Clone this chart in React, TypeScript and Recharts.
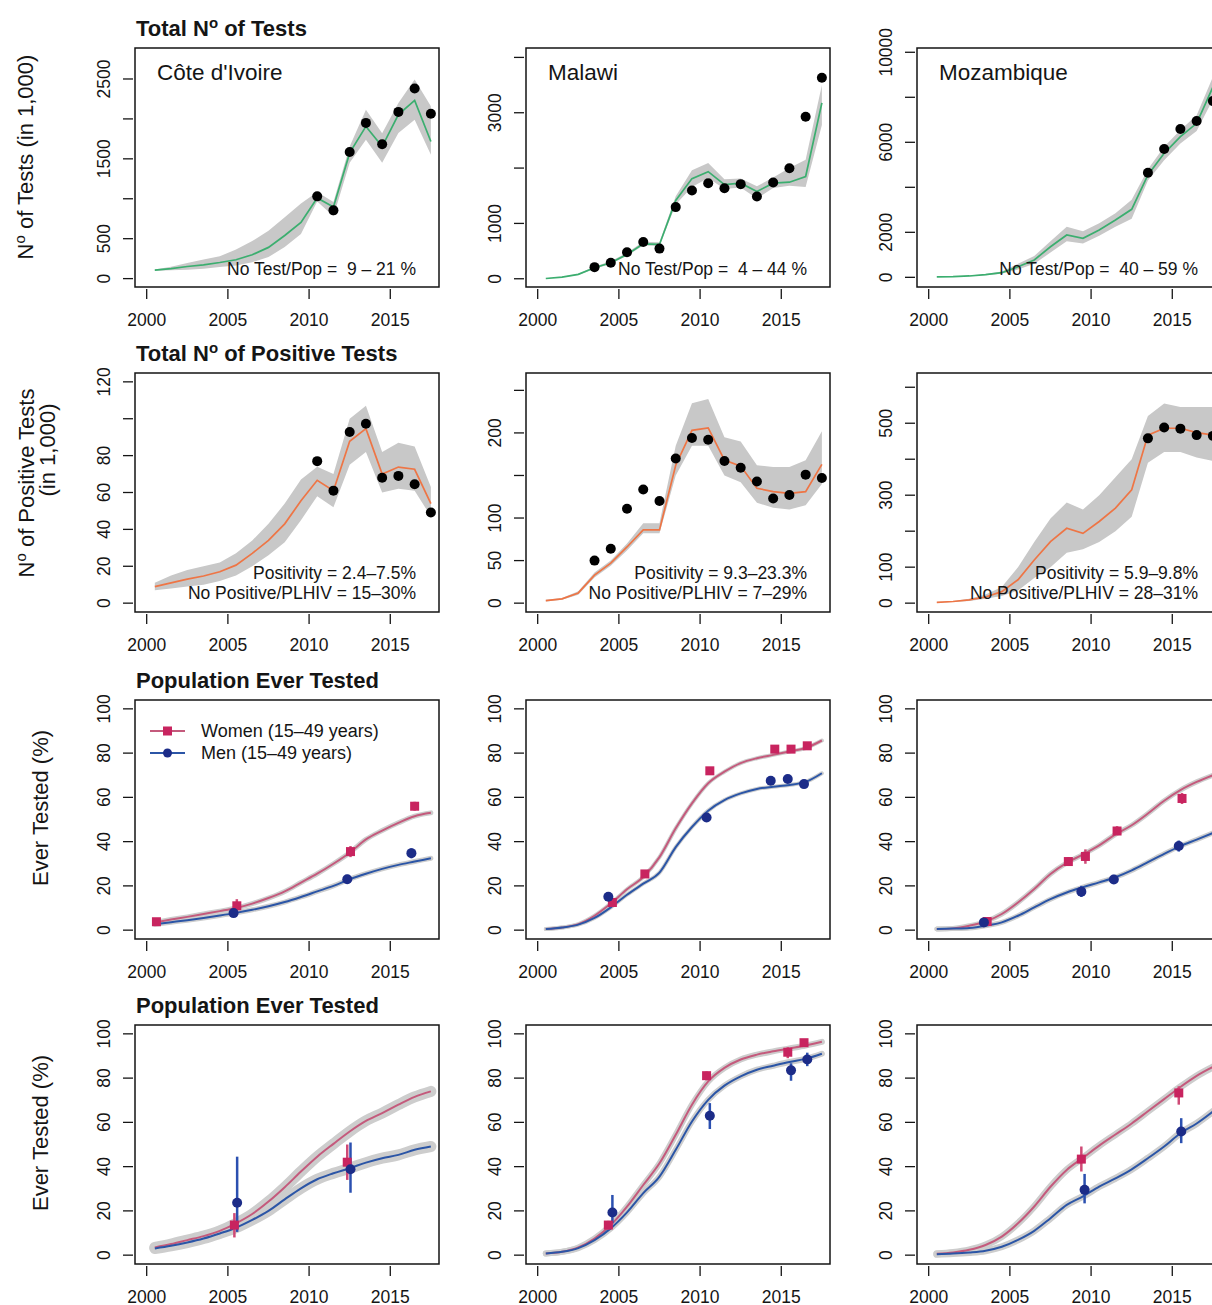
import React from 'react';
import { ComposedChart, Line, Area, Scatter, ErrorBar, XAxis, YAxis, ReferenceArea } from 'recharts';

const FONT = '"Liberation Sans", Arial, Helvetica, sans-serif';

// model time points (mid-year)
const years = [2000.5, 2001.5, 2002.5, 2003.5, 2004.5, 2005.5, 2006.5, 2007.5, 2008.5, 2009.5, 2010.5, 2011.5, 2012.5, 2013.5, 2014.5, 2015.5, 2016.5, 2017.5];
const xTicks = [2000, 2005, 2010, 2015];
const xDomain: [number, number] = [1999.28, 2018.0];

// ---- total number of tests (in 1,000) ----
const civTestFit = [106, 126, 152, 173, 202, 236, 299, 391, 540, 703, 1010, 896, 1574, 1906, 1654, 2054, 2231, 1717];
const civTestLo = [98, 104, 112, 125, 145, 165, 205, 270, 395, 560, 965, 780, 1450, 1740, 1450, 1825, 1990, 1550];
const civTestHi = [114, 150, 195, 240, 280, 365, 470, 600, 770, 940, 1085, 960, 1655, 2115, 1820, 2200, 2495, 2160];
const civTestObs = [1030, 855, 1585, 1950, 1683, 2088, 2380, 2065]; // 2010.5 - 2017.5

const mwTestFit = [5, 30, 80, 200, 290, 440, 630, 620, 1415, 1810, 1935, 1700, 1727, 1577, 1727, 1745, 1847, 3178];
const mwTestLo = [3, 25, 70, 180, 265, 415, 600, 590, 1340, 1660, 1820, 1620, 1650, 1450, 1640, 1680, 1660, 2780];
const mwTestHi = [8, 36, 92, 220, 315, 470, 670, 660, 1490, 1960, 2090, 1800, 1810, 1670, 1830, 2000, 2150, 3500];
const mwTestObs = [210, 290, 480, 665, 545, 1295, 1595, 1727, 1637, 1710, 1487, 1740, 1996, 2926, 3633]; // 2003.5 -

const mzTestFit = [20, 30, 60, 120, 205, 470, 770, 1360, 1880, 1733, 2100, 2547, 3022, 4547, 5511, 6250, 6844, 8450];
const mzTestLo = [15, 22, 45, 95, 160, 350, 600, 1100, 1600, 1500, 1850, 2250, 2600, 4300, 5200, 5950, 6500, 7900];
const mzTestHi = [25, 40, 80, 150, 260, 600, 950, 1600, 2250, 2050, 2400, 2850, 3450, 4800, 5800, 6550, 7200, 8900];
const mzTestObs = [4650, 5702, 6591, 6947, 7836]; // 2013.5 -

// ---- total number of positive tests (in 1,000) ----
const civPosFit = [9, 11, 13, 14.7, 17, 20.6, 27, 34, 43, 55.5, 66.6, 61, 87.8, 94.6, 70, 73.8, 72.6, 54];
const civPosLo = [7, 8, 9, 10, 12, 15, 20, 26, 33, 45, 58, 52, 75, 82, 60, 62, 61, 47];
const civPosHi = [11, 15, 18, 20, 22, 27, 34, 43, 54, 67, 74, 70, 100, 107, 82, 87, 85, 63];
const civPosObs = [77, 61, 92.8, 97.3, 68, 69, 64.5, 49.2]; // 2010.5 -

const mwPosFit = [3, 5, 12, 33, 47, 66, 86, 86, 162, 203, 206, 168, 161, 135, 131, 129, 131, 163];
const mwPosLo = [2, 4, 10, 30, 44, 62, 82, 82, 150, 185, 185, 150, 142, 118, 112, 110, 115, 140];
const mwPosHi = [4, 6, 14, 36, 50, 70, 94, 94, 185, 235, 240, 195, 190, 162, 160, 160, 168, 202];
const mwPosObs = [50, 64, 111, 133.5, 120, 170, 194, 192, 167, 159, 143, 123, 127, 151, 147]; // 2003.5 -

const mzPosFit = [2, 4.6, 9, 17, 32, 65, 120, 171, 208, 194, 227, 264, 315, 467, 486, 486, 474, 467];
const mzPosLo = [1, 3, 6, 12, 20, 35, 70, 100, 140, 150, 170, 200, 240, 390, 420, 420, 405, 395];
const mzPosHi = [3, 6, 12, 24, 45, 100, 170, 235, 280, 260, 300, 350, 400, 520, 555, 545, 545, 545];
const mzPosObs = [458, 488, 485, 467, 465]; // 2013.5 -

// ---- population ever tested (%), upper set ----
const civEverW = [3.5, 4.8, 6.0, 7.3, 8.6, 10, 12, 14.5, 17.5, 21.5, 25.5, 30, 35, 41, 45, 48.5, 51.5, 53];
const civEverM = [2.7, 3.6, 4.5, 5.5, 6.6, 7.8, 9.2, 10.8, 12.7, 15, 17.5, 20, 23, 25.5, 27.7, 29.5, 31, 32.5];
const civEverWYears = [2000.6, 2005.55, 2012.55, 2016.5];
const civEverWObs = [3.8, 11, 35.5, 56];
const civEverWLo = [2.8, 8, 33, 54];
const civEverWHi = [4.8, 14, 38, 58];
const civEverMYears = [2005.35, 2012.35, 2016.3];
const civEverMObs = [7.7, 23, 34.8];
const civEverMLo = [6.5, 21, 32.5];
const civEverMHi = [9, 25, 37];

const mwEverW = [0.5, 1.2, 2.7, 6.5, 12, 18.5, 24, 33, 46, 57.3, 66.4, 71.6, 75.5, 77.7, 79.2, 80.7, 82.3, 85.7];
const mwEverM = [0.5, 1.2, 2.5, 5.5, 10.3, 16, 21, 26, 37.5, 46.6, 54, 58.8, 61.8, 63.8, 64.8, 65.6, 67, 70.9];
const mwEverWYears = [2004.6, 2006.6, 2010.6, 2014.6, 2015.6, 2016.6];
const mwEverWObs = [12.5, 25.4, 72, 81.8, 81.8, 83.3];
const mwEverWLo = [11, 24, 70.5, 80.5, 80.5, 82];
const mwEverWHi = [14, 27, 73.5, 83, 83, 84.5];
const mwEverMYears = [2004.35, 2010.4, 2014.35, 2015.4, 2016.4];
const mwEverMObs = [15.1, 50.9, 67.5, 68.3, 66];
const mwEverMLo = [13.5, 49.5, 66, 67, 64.5];
const mwEverMHi = [16.5, 52.5, 69, 69.5, 67.5];

const mzEverW = [0.5, 0.8, 2, 3.9, 7.3, 12.5, 18.6, 25.4, 30.4, 34.2, 38.3, 43.3, 47.4, 52.7, 58.5, 63.3, 67, 70];
const mzEverM = [0.5, 0.7, 1.0, 2.0, 3.5, 6.5, 10.3, 14, 17, 19.4, 21.6, 23.9, 27, 30.7, 34.5, 38, 40.9, 43.9];
const mzEverWYears = [2003.6, 2008.6, 2009.65, 2011.6, 2015.6];
const mzEverWObs = [3.9, 31, 33.3, 44.8, 59.5];
const mzEverWLo = [2.5, 29, 30, 43, 57];
const mzEverWHi = [5.5, 33, 36.5, 47, 62];
const mzEverMYears = [2003.4, 2009.4, 2011.4, 2015.4];
const mzEverMObs = [3.5, 17.4, 22.9, 38];
const mzEverMLo = [2, 15, 21, 35.5];
const mzEverMHi = [5, 20, 25, 40.5];

// ---- population ever tested (%), lower set ----
const civEver2W = [3.5, 5, 6.8, 8.6, 11, 14.4, 18.6, 24.2, 30.7, 37.8, 44.5, 50.3, 55.9, 60.7, 64.2, 68, 71.5, 74];
const civEver2M = [3, 4.2, 5.7, 7.5, 9.8, 12.4, 15.9, 20, 25.2, 30.2, 34.3, 37, 39.3, 41.8, 43.8, 45.3, 47.6, 49.1];
const civEver2WYears = [2005.4, 2012.35];
const civEver2WObs = [13.6, 42];
const civEver2WLo = [8, 34];
const civEver2WHi = [19, 50];
const civEver2MYears = [2005.57, 2012.55];
const civEver2MObs = [23.7, 38.8];
const civEver2MLo = [10.5, 28.2];
const civEver2MHi = [44.5, 50.9];

const mwEver2W = [0.75, 1.5, 3.5, 7.5, 13.6, 21.9, 31.7, 41.5, 54.4, 68, 78.5, 84.6, 88.4, 90.6, 92.1, 93.4, 94.7, 96.4];
const mwEver2M = [0.75, 1.5, 3.2, 6.8, 12.1, 19.3, 28, 35.5, 47.6, 60.4, 70.2, 76.6, 80.8, 83.8, 85.6, 87.3, 88.7, 91];
const mwEver2WYears = [2004.35, 2010.4, 2015.4, 2016.4];
const mwEver2WObs = [13.6, 81.1, 91.7, 96];
const mwEver2WLo = [11.5, 79, 89, 95];
const mwEver2WHi = [15.5, 83, 94, 97];
const mwEver2MYears = [2004.6, 2010.6, 2015.6, 2016.6];
const mwEver2MObs = [19.3, 63, 83.5, 88.4];
const mwEver2MLo = [14.4, 57, 78.8, 85.4];
const mwEver2MHi = [27.2, 68.7, 86.7, 91.5];

const mzEver2W = [0.6, 1.2, 2.4, 4.6, 8.4, 14.4, 22, 30.9, 38.5, 44, 49.5, 54.5, 59.5, 65, 70.5, 76, 81, 85];
const mzEver2M = [0.4, 0.7, 1.2, 2.0, 3.8, 6.9, 11, 16.7, 22.7, 26.6, 31, 34.7, 38.8, 43.8, 49.1, 55.1, 59.5, 64.9];
const mzEver2WYears = [2009.4, 2015.4];
const mzEver2WObs = [43.4, 73.3];
const mzEver2WLo = [37.8, 68];
const mzEver2WHi = [49.1, 76.3];
const mzEver2MYears = [2009.6, 2015.55];
const mzEver2MObs = [29.5, 55.9];
const mzEver2MLo = [23.4, 50.6];
const mzEver2MHi = [36.7, 61.9];

const countries = ['Côte d\'Ivoire', 'Malawi', 'Mozambique'];
const testNotes = ['No Test/Pop =  9 – 21 %', 'No Test/Pop =  4 – 44 %', 'No Test/Pop =  40 – 59 %'];
const posNotes = [
  ['Positivity = 2.4–7.5%', 'No Positive/PLHIV = 15–30%'],
  ['Positivity = 9.3–23.3%', 'No Positive/PLHIV = 7–29%'],
  ['Positivity = 5.9–9.8%', 'No Positive/PLHIV = 28–31%'],
];

// layout
const COL_X = [135, 526, 917];
const ROW_Y = [48, 373, 700, 1025];
const BOX_W = 304;
const BOX_H = 239;
const YW = 50;
const XH = 50;
const MT = 30;
const MR = 5;
const CW = YW + BOX_W + MR;
const CH = MT + BOX_H + XH;
const PB = MT + BOX_H;

const GREEN = '#3BAE6F';
const ORANGE = '#EE7545';
const BAND = '#C8C8C8';
const PINK = '#C45A7C';
const PINK_PT = '#C8245F';
const BLUE = '#2B55A6';
const BLUE_PT = '#1C2C88';
const INK = '#151515';

function YTick(props: any) {
  const { y, payload, labels } = props;
  const v = payload.value;
  const lx = YW - 31;
  return (
    <g>
      <line x1={YW - 2} x2={YW - 12} y1={y} y2={y} stroke={INK} strokeWidth={1.3} />
      {labels.includes(v) && (
        <text x={lx} y={y} dy="0.36em" textAnchor="middle" transform={`rotate(-90 ${lx} ${y})`}
          fontSize={17.5} fontFamily={FONT} fill={INK}>{v}</text>
      )}
    </g>
  );
}

function XTick(props: any) {
  const { x, payload } = props;
  return (
    <g>
      <line x1={x} x2={x} y1={PB + 2} y2={PB + 12} stroke={INK} strokeWidth={1.3} />
      <text x={x} y={PB + 33} dy="0.36em" textAnchor="middle" fontSize={17.5} fontFamily={FONT} fill={INK}>{payload.value}</text>
    </g>
  );
}

function CountPanel(props: any) {
  const { fit, lo, hi, obsFrom, obs, yDomain, yTicks, yLabels, color, col, row } = props;
  const data = years.map((year, i) => ({ year, fit: fit[i], band: [lo[i], hi[i]] }));
  const start = years.indexOf(obsFrom);
  const pts = obs.map((v: number, i: number) => ({ year: years[start + i], v }));
  return (
    <div style={{ position: 'absolute', left: COL_X[col] - YW, top: ROW_Y[row] - MT }}>
      <ComposedChart width={CW} height={CH} data={data} margin={{ top: MT, right: MR, bottom: 0, left: 0 }}>
        <XAxis dataKey="year" type="number" domain={xDomain} ticks={xTicks} allowDataOverflow interval={0}
          axisLine={false} tickLine={false} height={XH} tick={(p: any) => <XTick {...p} />} />
        <YAxis type="number" domain={yDomain} ticks={yTicks} allowDataOverflow interval={0}
          axisLine={false} tickLine={false} width={YW} tick={(p: any) => <YTick {...p} labels={yLabels} />} />
        <Area dataKey="band" type="linear" stroke="none" fill={BAND} fillOpacity={1} isAnimationActive={false} />
        <Line dataKey="fit" type="linear" stroke={color} strokeWidth={1.7} dot={false} isAnimationActive={false} />
        <Scatter data={pts} dataKey="v" isAnimationActive={false}
          shape={(p: any) => <circle cx={p.cx} cy={p.cy} r={5} fill="#000" />} />
        <ReferenceArea x1={xDomain[0]} x2={xDomain[1]} y1={yDomain[0]} y2={yDomain[1]} ifOverflow="visible"
          fill="none" fillOpacity={0} stroke={INK} strokeWidth={1.5} />
      </ComposedChart>
    </div>
  );
}

function obsRows(ys: number[], v: number[], lo: number[], hi: number[]) {
  return ys.map((year, i) => ({ year, v: v[i], err: [v[i] - lo[i], hi[i] - v[i]] }));
}

function EverPanel(props: any) {
  const { w, m, wObs, mObs, halo, col, row } = props;
  const data = years.map((year, i) => ({ year, w: w[i], m: m[i] }));
  const yDomain: [number, number] = [-4, 104];
  return (
    <div style={{ position: 'absolute', left: COL_X[col] - YW, top: ROW_Y[row] - MT }}>
      <ComposedChart width={CW} height={CH} data={data} margin={{ top: MT, right: MR, bottom: 0, left: 0 }}>
        <XAxis dataKey="year" type="number" domain={xDomain} ticks={xTicks} allowDataOverflow interval={0}
          axisLine={false} tickLine={false} height={XH} tick={(p: any) => <XTick {...p} />} />
        <YAxis type="number" domain={yDomain} ticks={[0, 20, 40, 60, 80, 100]} allowDataOverflow interval={0}
          axisLine={false} tickLine={false} width={YW} tick={(p: any) => <YTick {...p} labels={[0, 20, 40, 60, 80, 100]} />} />
        <Line dataKey="w" type="monotone" stroke="#CDCDCD" strokeWidth={halo} strokeLinecap="round" dot={false} isAnimationActive={false} />
        <Line dataKey="m" type="monotone" stroke="#CDCDCD" strokeWidth={halo} strokeLinecap="round" dot={false} isAnimationActive={false} />
        <Line dataKey="w" type="monotone" stroke={PINK} strokeWidth={2} dot={false} isAnimationActive={false} />
        <Line dataKey="m" type="monotone" stroke={BLUE} strokeWidth={2} dot={false} isAnimationActive={false} />
        <Scatter data={wObs} dataKey="v" isAnimationActive={false}
          shape={(p: any) => <rect x={p.cx - 4.5} y={p.cy - 4.5} width={9} height={9} fill={PINK_PT} />}>
          <ErrorBar dataKey="err" direction="y" width={0} stroke="#CF4A76" strokeWidth={2.5} isAnimationActive={false} />
        </Scatter>
        <Scatter data={mObs} dataKey="v" isAnimationActive={false}
          shape={(p: any) => <circle cx={p.cx} cy={p.cy} r={5} fill={BLUE_PT} />}>
          <ErrorBar dataKey="err" direction="y" width={0} stroke="#2B50B0" strokeWidth={2.5} isAnimationActive={false} />
        </Scatter>
        <ReferenceArea x1={xDomain[0]} x2={xDomain[1]} y1={yDomain[0]} y2={yDomain[1]} ifOverflow="visible"
          fill="none" fillOpacity={0} stroke={INK} strokeWidth={1.5} />
      </ComposedChart>
    </div>
  );
}

function Sup({ base, rest, size, sup }: { base: string; rest: string; size: number; sup: number }) {
  return (
    <>
      {base}
      <tspan dy={-sup} fontSize={size * 0.68}>o</tspan>
      <tspan dy={sup}>{rest}</tspan>
    </>
  );
}

function Overlay() {
  const t = { fontFamily: FONT, fill: INK } as const;
  return (
    <svg width={1212} height={1305} style={{ position: 'absolute', left: 0, top: 0, pointerEvents: 'none' }}>
      {/* row titles */}
      <text x={136} y={ROW_Y[0] - 12} fontSize={22} fontWeight="bold" {...t}>
        <Sup base="Total N" rest=" of Tests" size={22} sup={8} />
      </text>
      <text x={136} y={ROW_Y[1] - 12} fontSize={22} fontWeight="bold" {...t}>
        <Sup base="Total N" rest=" of Positive Tests" size={22} sup={8} />
      </text>
      <text x={136} y={ROW_Y[2] - 12} fontSize={22} fontWeight="bold" {...t}>Population Ever Tested</text>
      <text x={136} y={ROW_Y[3] - 12} fontSize={22} fontWeight="bold" {...t}>Population Ever Tested</text>

      {/* y axis titles */}
      <text x={33} y={157} fontSize={22} textAnchor="middle" transform="rotate(-90 33 157)" {...t}>
        <Sup base="N" rest=" of Tests (in 1,000)" size={22} sup={8} />
      </text>
      <text x={34} y={483} fontSize={22} textAnchor="middle" transform="rotate(-90 34 483)" {...t}>
        <Sup base="N" rest=" of Positive Tests" size={22} sup={8} />
      </text>
      <text x={55} y={450} fontSize={22} textAnchor="middle" transform="rotate(-90 55 450)" {...t}>(in 1,000)</text>
      <text x={48} y={808} fontSize={22} textAnchor="middle" transform="rotate(-90 48 808)" {...t}>Ever Tested (%)</text>
      <text x={48} y={1133} fontSize={22} textAnchor="middle" transform="rotate(-90 48 1133)" {...t}>Ever Tested (%)</text>

      {/* countries and notes */}
      {countries.map((c, i) => (
        <text key={c} x={COL_X[i] + 22} y={ROW_Y[0] + 32} fontSize={22.5} {...t}>{c}</text>
      ))}
      {testNotes.map((n, i) => (
        <text key={n} x={COL_X[i] + BOX_W - 23} y={ROW_Y[0] + 227} fontSize={17.5} textAnchor="end"
          style={{ whiteSpace: 'pre' }} {...t}>{n}</text>
      ))}
      {posNotes.map((n, i) => (
        <g key={i}>
          <text x={COL_X[i] + BOX_W - 23} y={ROW_Y[1] + 206} fontSize={17.5} textAnchor="end" {...t}>{n[0]}</text>
          <text x={COL_X[i] + BOX_W - 23} y={ROW_Y[1] + 226} fontSize={17.5} textAnchor="end" {...t}>{n[1]}</text>
        </g>
      ))}

      {/* legend */}
      <line x1={150} x2={185} y1={731} y2={731} stroke={PINK} strokeWidth={2} />
      <rect x={163} y={726.5} width={9} height={9} fill={PINK_PT} />
      <text x={201} y={737} fontSize={18} {...t}>Women (15–49 years)</text>
      <line x1={150} x2={185} y1={753} y2={753} stroke={BLUE} strokeWidth={2} />
      <circle cx={167.5} cy={753} r={4.5} fill={BLUE_PT} />
      <text x={201} y={759} fontSize={18} {...t}>Men (15–49 years)</text>
    </svg>
  );
}

export default function App() {
  return (
    <div style={{ position: 'fixed', left: 0, top: 0, width: 1212, height: 1305, overflow: 'hidden', background: '#fff' }}>
      <CountPanel col={0} row={0} fit={civTestFit} lo={civTestLo} hi={civTestHi} obsFrom={2010.5} obs={civTestObs}
        yDomain={[-105, 2888]} yTicks={[0, 500, 1000, 1500, 2000, 2500]} yLabels={[0, 500, 1500, 2500]} color={GREEN} />
      <CountPanel col={1} row={0} fit={mwTestFit} lo={mwTestLo} hi={mwTestHi} obsFrom={2003.5} obs={mwTestObs}
        yDomain={[-149, 4170]} yTicks={[0, 1000, 2000, 3000, 4000]} yLabels={[0, 1000, 3000]} color={GREEN} />
      <CountPanel col={2} row={0} fit={mzTestFit} lo={mzTestLo} hi={mzTestHi} obsFrom={2013.5} obs={mzTestObs}
        yDomain={[-430, 10190]} yTicks={[0, 2000, 4000, 6000, 8000, 10000]} yLabels={[0, 2000, 6000, 10000]} color={GREEN} />

      <CountPanel col={0} row={1} fit={civPosFit} lo={civPosLo} hi={civPosHi} obsFrom={2010.5} obs={civPosObs}
        yDomain={[-4.8, 124.8]} yTicks={[0, 20, 40, 60, 80, 100, 120]} yLabels={[0, 20, 40, 60, 80, 120]} color={ORANGE} />
      <CountPanel col={1} row={1} fit={mwPosFit} lo={mwPosLo} hi={mwPosHi} obsFrom={2003.5} obs={mwPosObs}
        yDomain={[-10.4, 270.4]} yTicks={[0, 50, 100, 150, 200, 250]} yLabels={[0, 50, 100, 200]} color={ORANGE} />
      <CountPanel col={2} row={1} fit={mzPosFit} lo={mzPosLo} hi={mzPosHi} obsFrom={2013.5} obs={mzPosObs}
        yDomain={[-24.6, 639.6]} yTicks={[0, 100, 200, 300, 400, 500, 600]} yLabels={[0, 100, 300, 500]} color={ORANGE} />

      <EverPanel col={0} row={2} w={civEverW} m={civEverM} halo={5}
        wObs={obsRows(civEverWYears, civEverWObs, civEverWLo, civEverWHi)}
        mObs={obsRows(civEverMYears, civEverMObs, civEverMLo, civEverMHi)} />
      <EverPanel col={1} row={2} w={mwEverW} m={mwEverM} halo={4}
        wObs={obsRows(mwEverWYears, mwEverWObs, mwEverWLo, mwEverWHi)}
        mObs={obsRows(mwEverMYears, mwEverMObs, mwEverMLo, mwEverMHi)} />
      <EverPanel col={2} row={2} w={mzEverW} m={mzEverM} halo={5}
        wObs={obsRows(mzEverWYears, mzEverWObs, mzEverWLo, mzEverWHi)}
        mObs={obsRows(mzEverMYears, mzEverMObs, mzEverMLo, mzEverMHi)} />

      <EverPanel col={0} row={3} w={civEver2W} m={civEver2M} halo={11}
        wObs={obsRows(civEver2WYears, civEver2WObs, civEver2WLo, civEver2WHi)}
        mObs={obsRows(civEver2MYears, civEver2MObs, civEver2MLo, civEver2MHi)} />
      <EverPanel col={1} row={3} w={mwEver2W} m={mwEver2M} halo={6}
        wObs={obsRows(mwEver2WYears, mwEver2WObs, mwEver2WLo, mwEver2WHi)}
        mObs={obsRows(mwEver2MYears, mwEver2MObs, mwEver2MLo, mwEver2MHi)} />
      <EverPanel col={2} row={3} w={mzEver2W} m={mzEver2M} halo={7}
        wObs={obsRows(mzEver2WYears, mzEver2WObs, mzEver2WLo, mzEver2WHi)}
        mObs={obsRows(mzEver2MYears, mzEver2MObs, mzEver2MLo, mzEver2MHi)} />

      <Overlay />
    </div>
  );
}
